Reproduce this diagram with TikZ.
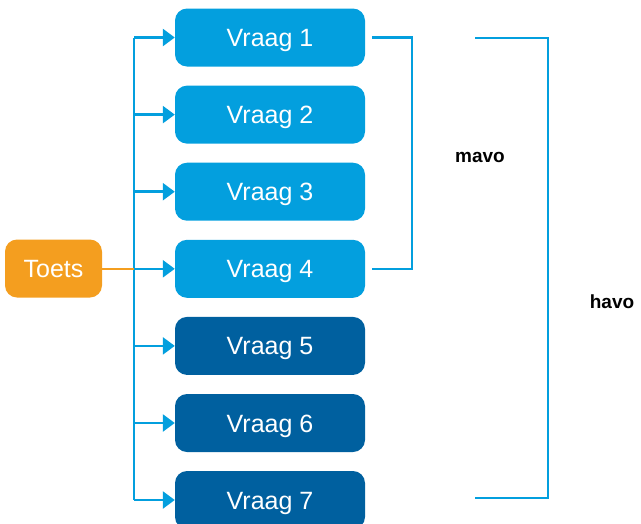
\documentclass[tikz,border=0pt]{standalone}
\usepackage{fontspec}
\setmainfont{Liberation Sans}
\usetikzlibrary{arrows.meta}
\definecolor{lblue}{HTML}{039FDE}
\definecolor{dblue}{HTML}{00609F}
\definecolor{orng}{HTML}{F49E1F}
\begin{document}
\begin{tikzpicture}[x=1pt,y=-1pt,
  box/.style={rounded corners=12pt, minimum width=190pt, minimum height=58pt, text=white,
    font=\fontsize{25}{30}\selectfont, inner sep=0pt, text height=18pt, text depth=0pt},
  qa/.style={box, fill=lblue},
  qb/.style={box, fill=dblue},
  conn/.style={lblue, line width=2.5pt},
  arr/.style={conn, -{Triangle[length=12pt,width=17pt]}},
  lab/.style={font=\bfseries\fontsize{19}{22}\selectfont, text=black}]
\useasboundingbox (0,0) rectangle (641,523);
\node[box, fill=orng, minimum width=97pt] (t) at (53.5,268.5) {Toets};
\node[qa] (v1) at (270,37.5) {Vraag 1};
\node[qa] (v2) at (270,114.6) {Vraag 2};
\node[qa] (v3) at (270,191.7) {Vraag 3};
\node[qa] (v4) at (270,268.8) {Vraag 4};
\node[qb] (v5) at (270,345.9) {Vraag 5};
\node[qb] (v6) at (270,423) {Vraag 6};
\node[qb] (v7) at (270,500) {Vraag 7};
\coordinate (spine) at (134,0);
\draw[conn] (v1.west -| spine) -- (v7.west -| spine);
\draw[orng, line width=2pt] (t.east) -- (t.east -| spine);
\foreach \i in {1,...,7} {
  \draw[arr] (v\i.west -| spine) -- (v\i.west);
}
\coordinate (m) at (412,0);
\draw[conn] ([xshift=7pt]v1.east) -- (v1.east -| m) -- (v4.east -| m) -- ([xshift=7pt]v4.east);
\coordinate (h1) at (475,38);
\coordinate (h2) at (548,38);
\coordinate (h3) at (548,498);
\coordinate (h4) at (475,498);
\draw[conn] (h1) -- (h2) -- (h3) -- (h4);
\node[lab] (mavo) at (480,157) {mavo};
\node[lab] (havo) at (612,302) {havo};
\end{tikzpicture}
\end{document}
